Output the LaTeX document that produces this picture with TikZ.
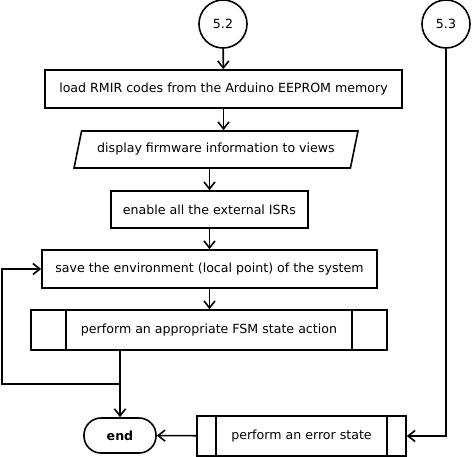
\documentclass[tikz,border=0pt]{standalone}
\usepackage{fontspec}
\setmainfont{DejaVu Sans}
\usetikzlibrary{shapes.geometric,arrows.meta}
\tikzset{
  flow/.style={line width=1.6pt,-{Straight Barb[length=7pt,width=11pt]}},
  line/.style={line width=1.6pt},
  box/.style={draw,line width=1.6pt,rectangle},
  conn/.style={draw,line width=1.6pt,circle,minimum size=48pt,inner sep=0pt},
  io/.style={draw,line width=1.6pt,trapezium,trapezium left angle=70,trapezium right angle=110,
    trapezium stretches=true,minimum width=284pt,minimum height=37pt},
  term/.style={draw,line width=1.6pt,rounded corners=17pt,minimum width=72pt,minimum height=35pt,
    font=\fontsize{12.6}{15}\selectfont\bfseries}
}
\begin{document}
\begin{tikzpicture}[x=1pt,y=-1pt,font=\fontsize{12.6}{15}\selectfont]
\useasboundingbox (0,0) rectangle (472,457);
\node[conn] (c52) at (223,24) {5.2};
\node[conn] (c53) at (446,24) {5.3};
\node[box,minimum width=357pt,minimum height=38pt] (load) at (223.5,89) {load RMIR codes from the Arduino EEPROM memory};
\node[io] (disp) at (216,149.5) {display firmware information to views};
\node[box,minimum width=197pt,minimum height=37pt] (enab) at (209.5,209.5) {enable all the external ISRs};
\node[box,minimum width=335pt,minimum height=38pt] (save) at (209.5,269) {save the environment (local point) of the system};
\node[box,minimum width=356pt,minimum height=40pt] (fsm) at (209,330) {perform an appropriate FSM state action};
\draw[line] ([xshift=36pt]fsm.north west)--([xshift=36pt]fsm.south west);
\draw[line] ([xshift=-36pt]fsm.north east)--([xshift=-36pt]fsm.south east);
\node[term] (endn) at (120,435.5) {end};
\node[box,minimum width=209pt,minimum height=40pt] (err) at (301.5,436) {perform an error state};
\draw[line] ([xshift=20pt]err.north west)--([xshift=20pt]err.south west);
\draw[line] ([xshift=-20pt]err.north east)--([xshift=-20pt]err.south east);
\coordinate (back) at (2,384);
\draw[flow] (c52)--(load);
\draw[flow] (load.south)--(load.south |- disp.north);
\draw[flow] (enab.north |- disp.south)--(enab);
\draw[flow] (enab)--(save);
\draw[flow] (save.south)--(save.south |- fsm.north);
\draw[flow] (endn.north |- fsm.south)--(endn);
\draw[flow] (endn.north |- back)--(back)|-(save.west);
\draw[flow] (err)--(endn);
\draw[flow] (c53)|-(err);
\end{tikzpicture}
\end{document}
